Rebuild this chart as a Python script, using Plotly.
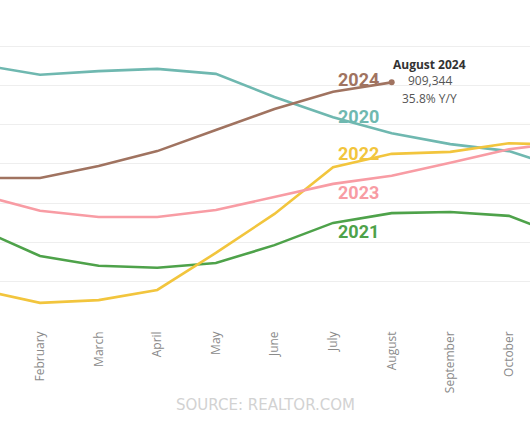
import plotly.graph_objects as go

months = ["January", "February", "March", "April", "May", "June", "July",
          "August", "September", "October", "November"]
month_idx = list(range(len(months)))

# Active listings (thousands)
y2020 = [954, 929, 938, 944, 931, 872, 820, 779, 751, 733, 685]
y2021 = [531, 464, 439, 434, 446, 492, 549, 574, 577, 567, 510]
y2022 = [377, 344, 351, 377, 472, 572, 692, 726, 731, 753, 749]
y2023 = [620, 580, 564, 564, 582, 615, 649, 670, 703, 738, 756]
y2024 = [664, 664, 695, 733, 787, 841, 885, 909.344]

series = [
    ("2020", y2020, "#6fb8b0"),
    ("2021", y2021, "#4ea24a"),
    ("2022", y2022, "#f2c53d"),
    ("2023", y2023, "#f89ca4"),
    ("2024", y2024, "#a07360"),
]
label_y = {"2020": 822, "2021": 528, "2022": 727, "2023": 626, "2024": 917}

tick_vals = list(range(300, 1001, 100))

fig = go.Figure()
for name, vals, col in series:
    fig.add_trace(go.Scatter(
        x=month_idx[:len(vals)], y=vals, mode="lines",
        line=dict(color=col, width=2.6), name=name, showlegend=False,
        hoverinfo="skip"))

# end point of 2024
fig.add_trace(go.Scatter(
    x=[month_idx[len(y2024) - 1]], y=[y2024[-1]], mode="markers",
    marker=dict(color="#a07360", size=6), showlegend=False, hoverinfo="skip"))

for name, _, col in series:
    fig.add_annotation(x=6.44, y=label_y[name], text="<b>" + name + "</b>",
                       showarrow=False, xanchor="center", yanchor="middle",
                       font=dict(family="Roboto, sans-serif", size=18, color=col))

fig.add_annotation(x=7.65, y=954, text="<b>August 2024</b>", showarrow=False,
                   font=dict(family="Open Sans, sans-serif", size=12, color="#333333"))
fig.add_annotation(x=7.65, y=913, text=f"{y2024[-1]*1000:,.0f}", showarrow=False,
                   font=dict(family="Open Sans, sans-serif", size=12, color="#555555"))
fig.add_annotation(x=7.65, y=869, text="35.8% Y/Y", showarrow=False,
                   font=dict(family="Open Sans, sans-serif", size=12, color="#555555"))

fig.add_annotation(xref="paper", yref="paper", x=0.5, y=-0.32,
                   text="SOURCE: REALTOR.COM", showarrow=False,
                   font=dict(family="DejaVu Sans, sans-serif", size=15, color="#d2d2d2"))

fig.update_layout(
    width=530, height=442,
    margin=dict(l=0, r=0, t=20, b=122),
    paper_bgcolor="white", plot_bgcolor="white",
    xaxis=dict(range=[0.317, 9.36], tickmode="array",
               tickvals=month_idx[1:10], ticktext=months[1:10],
               tickangle=-90, showgrid=False, zeroline=False,
               ticks="", ticklabelstandoff=8,
               tickfont=dict(family="Open Sans, sans-serif", size=12, color="#8a8a8a")),
    yaxis=dict(range=[300, 1069.2], tickvals=tick_vals, showticklabels=False,
               showgrid=True, gridcolor="#eeeeee", gridwidth=1, zeroline=False),
)

fig.write_html("out.html", config={"displayModeBar": False},
               post_script="document.body.style.margin='0';document.body.style.overflow='hidden';")
